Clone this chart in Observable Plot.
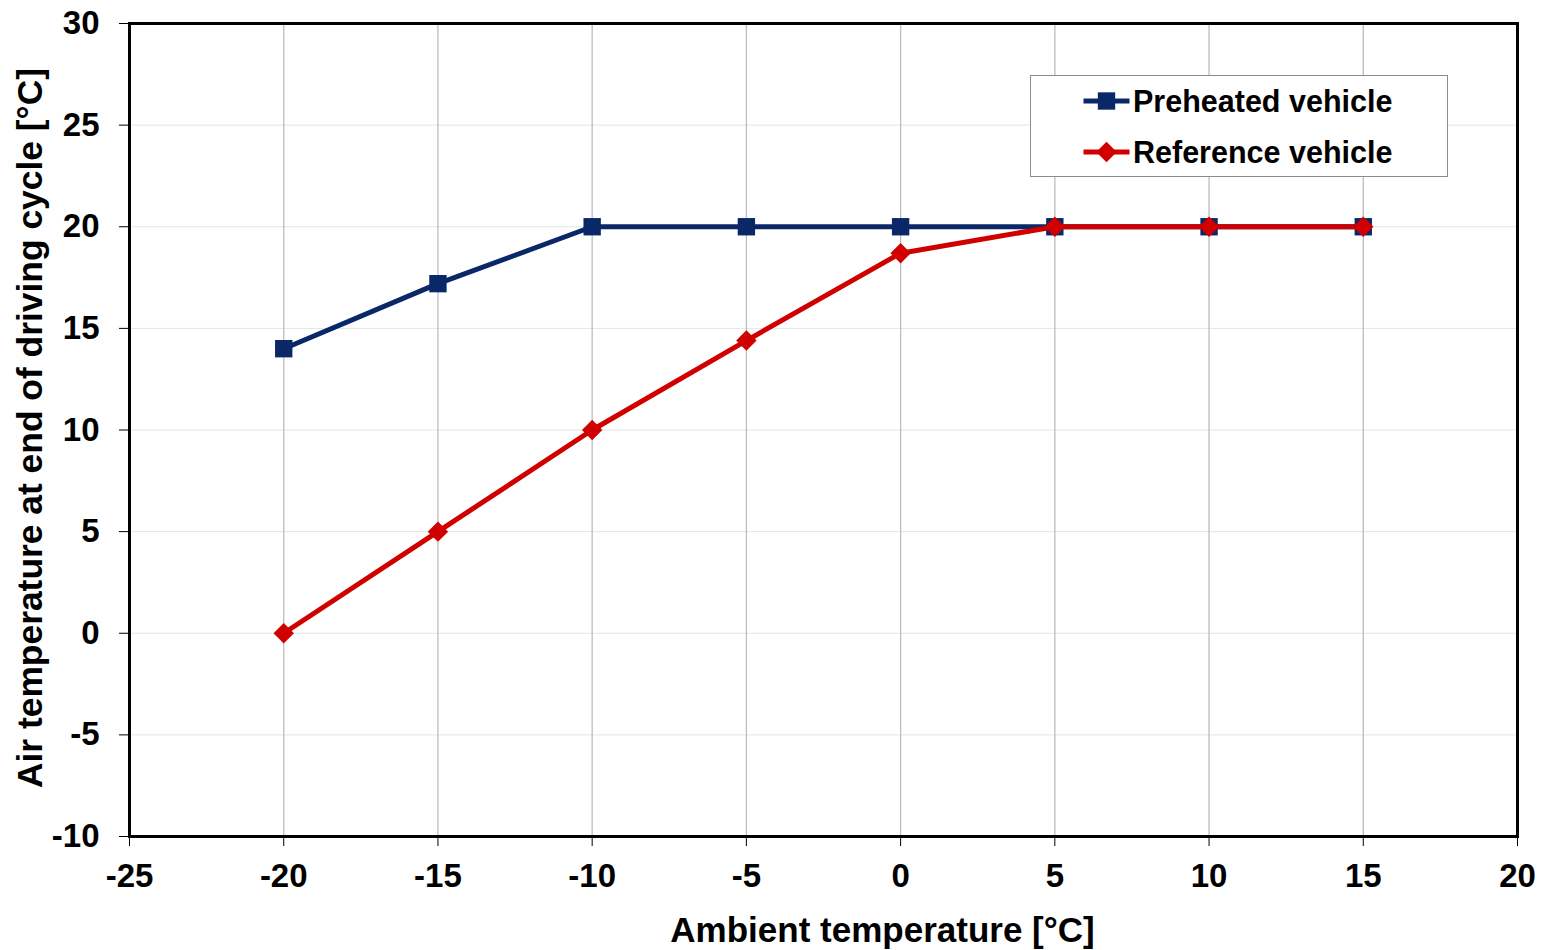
<!DOCTYPE html>
<html>
<head>
<meta charset="utf-8">
<script src="https://cdn.jsdelivr.net/npm/d3@7"></script>
<script src="https://cdn.jsdelivr.net/npm/@observablehq/plot@0.6"></script>
<style>
  html, body { margin: 0; padding: 0; background: #fff; }
  #wrap { position: relative; width: 1547px; height: 950px; font-family: "Liberation Sans", Arial, sans-serif; }
  #wrap svg { display: block; }
  #legend { position: absolute; left: 1030px; top: 75px; width: 418px; height: 102px; border: 1.5px solid #8c8c8c; background: #fff; box-sizing: border-box; }
  .row { position: absolute; left: 52px; height: 36px; display: flex; align-items: center; font-weight: bold; font-size: 30.5px; color: #000; }
  .row svg { margin-right: 3px; }
</style>
</head>
<body>
<div id="wrap"></div>
<script>
const ambient = [-20, -15, -10, -5, 0, 5, 10, 15];
const preheated = [14, 17.2, 20, 20, 20, 20, 20, 20];
const reference = [0, 5, 10, 14.4, 18.7, 20, 20, 20];
const xTicks = [-25, -20, -15, -10, -5, 0, 5, 10, 15, 20];
const yTicks = [-10, -5, 0, 5, 10, 15, 20, 25, 30];
const seriesNames = ["Preheated vehicle", "Reference vehicle"];
const seriesColors = ["#0a2868", "#d00000"];
const seriesSymbols = ["square", "diamond2"];
const xTitle = "Ambient temperature [°C]";
const yTitle = "Air temperature at end of driving cycle [°C]";

const preData = ambient.map((x, i) => ({x, y: preheated[i]}));
const refData = ambient.map((x, i) => ({x, y: reference[i]}));

const chart = Plot.plot({
  width: 1547,
  height: 950,
  marginLeft: 129,
  marginRight: 30,
  marginTop: 23,
  marginBottom: 114,
  style: {fontFamily: "Liberation Sans, Arial, sans-serif", fontWeight: "bold", color: "#000", background: "#fff"},
  x: {domain: [-25, 20]},
  y: {domain: [-10, 30]},
  marks: [
    Plot.gridY(yTicks.slice(1, -1), {stroke: "#e4e4e4", strokeOpacity: 1, strokeWidth: 1}),
    Plot.gridX(xTicks.slice(1, -1), {stroke: "#bdbdbd", strokeOpacity: 1, strokeWidth: 1.3}),
    Plot.axisY(yTicks, {tickSize: 10, tickPadding: 20, fontSize: 33, fontWeight: "bold", stroke: "#000", label: null, tickFormat: d => String(d)}),
    Plot.axisX(xTicks, {tickSize: 10, tickPadding: 17, fontSize: 33, fontWeight: "bold", stroke: "#000", label: null, tickFormat: d => String(d)}),
    Plot.frame({stroke: "#000", strokeWidth: 3}),
    Plot.line(preData, {x: "x", y: "y", stroke: seriesColors[0], strokeWidth: 5}),
    Plot.dot(preData, {x: "x", y: "y", symbol: seriesSymbols[0], r: 9.8, fill: seriesColors[0], stroke: "none"}),
    Plot.line(refData, {x: "x", y: "y", stroke: seriesColors[1], strokeWidth: 5}),
    Plot.dot(refData, {x: "x", y: "y", symbol: seriesSymbols[1], r: 9.2, fill: seriesColors[1], stroke: "none"}),
    Plot.text([xTitle], {frameAnchor: "bottom", dx: 59, dy: 94, fontSize: 35, fontWeight: "bold", fill: "#000", lineAnchor: "middle"}),
    Plot.text([yTitle], {frameAnchor: "left", dx: -99, dy: -2, rotate: -90, fontSize: 35.4, fontWeight: "bold", fill: "#000", lineAnchor: "middle", textAnchor: "middle"})
  ]
});

const wrap = document.getElementById("wrap");
wrap.appendChild(chart);

const legend = document.createElement("div");
legend.id = "legend";
const rowTops = [7, 58];
seriesNames.forEach((name, i) => {
  const row = document.createElement("div");
  row.className = "row";
  row.style.top = rowTops[i] + "px";
  const sym = d3.symbol(seriesSymbols[i] === "square" ? d3.symbolSquare : d3.symbolDiamond2, Math.PI * (i === 0 ? 9.8 : 9.2) ** 2)();
  row.innerHTML = `<svg width="47" height="30" viewBox="-23.5 -15 47 30"><line x1="-23" x2="23" y1="0" y2="0" stroke="${seriesColors[i]}" stroke-width="5"/><path d="${sym}" fill="${seriesColors[i]}"/></svg><span>${name}</span>`;
  legend.appendChild(row);
});
wrap.appendChild(legend);
</script>
</body>
</html>
